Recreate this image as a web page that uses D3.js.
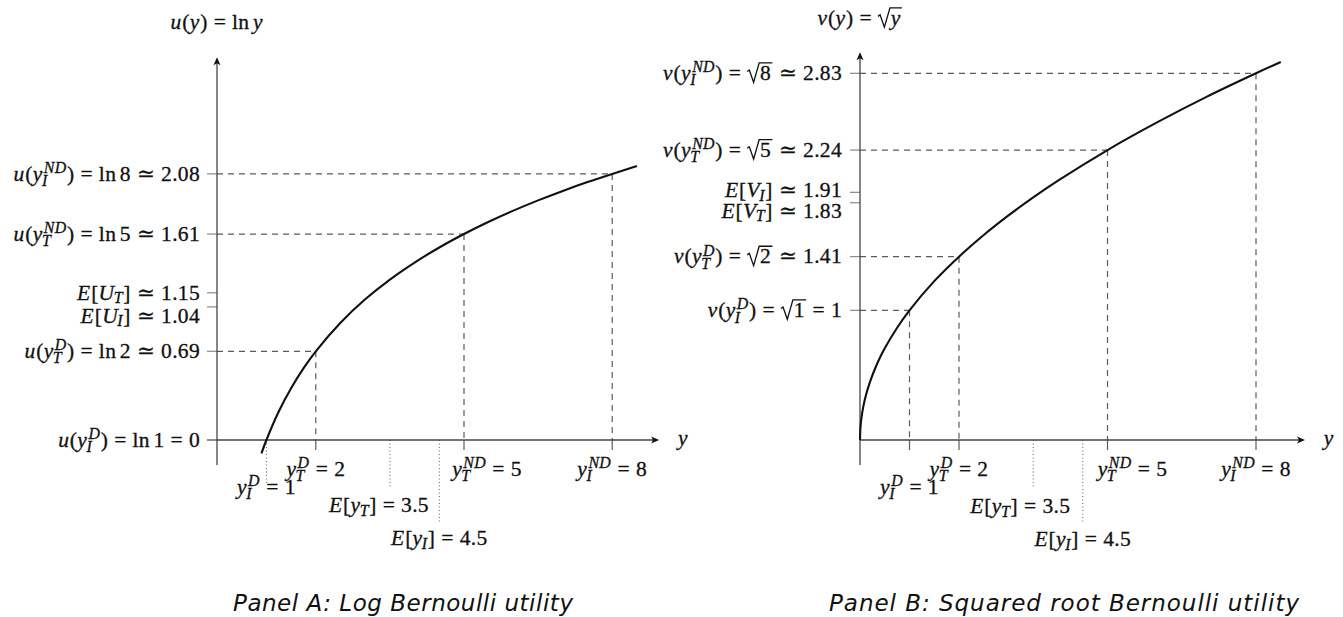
<!DOCTYPE html>
<html><head><meta charset="utf-8">
<script src="https://cdn.jsdelivr.net/npm/d3@7"></script>
<style>
html,body{margin:0;padding:0;background:#fff;}
svg{display:block;}
</style></head>
<body>
<svg id="chart" width="1343" height="617"></svg>
<script>
// ================= DATA =================
// incomes (x axis)
const incomeTicks = [1, 2, 5, 8];
const incomeLabels = ["y_I^D = 1", "y_T^D = 2", "y_T^{ND} = 5", "y_I^{ND} = 8"];
const expectedIncome = [3.5, 4.5];
const expectedIncomeLabels = ["E[y_T] = 3.5", "E[y_I] = 4.5"];

// Panel A: log utility
const logUtilityAtIncome = [0, 0.693, 1.609, 2.079];
const logTickLabels = ["u(y_I^D) = ln 1 = 0", "u(y_T^D) = ln 2 ≃ 0.69", "u(y_T^{ND}) = ln 5 ≃ 1.61", "u(y_I^{ND}) = ln 8 ≃ 2.08"];
const logExpectedUtility = [1.15, 1.04];
const logExpectedLabels = ["E[U_T] ≃ 1.15", "E[U_I] ≃ 1.04"];
const logCurveX = [0.9, 1, 1.25, 1.5, 1.75, 2, 2.5, 3, 3.5, 4, 4.5, 5, 5.5, 6, 6.5, 7, 7.5, 8, 8.5];
const logCurveY = [-0.105, 0, 0.223, 0.405, 0.560, 0.693, 0.916, 1.099, 1.253, 1.386, 1.504, 1.609, 1.705, 1.792, 1.872, 1.946, 2.015, 2.079, 2.140];

// Panel B: square-root utility
const sqrtUtilityAtIncome = [1, 1.414, 2.236, 2.828];
const sqrtTickLabels = ["v(y_I^D) = √{1} = 1", "v(y_T^D) = √{2} ≃ 1.41", "v(y_T^{ND}) = √{5} ≃ 2.24", "v(y_I^{ND}) = √{8} ≃ 2.83"];
const sqrtExpectedUtility = [1.91, 1.83];
const sqrtExpectedLabels = ["E[V_I] ≃ 1.91", "E[V_T] ≃ 1.83"];
const sqrtCurveX = [0, 0.01, 0.04, 0.1, 0.2, 0.35, 0.5, 0.75, 1, 1.5, 2, 2.5, 3, 3.5, 4, 5, 6, 7, 8, 8.5];
const sqrtCurveY = [0, 0.1, 0.2, 0.316, 0.447, 0.592, 0.707, 0.866, 1, 1.225, 1.414, 1.581, 1.732, 1.871, 2, 2.236, 2.449, 2.646, 2.828, 2.915];

const titles = ["u(y) = ln y", "v(y) = √{y}"];
const captions = ["Panel A: Log Bernoulli utility", "Panel B: Squared root Bernoulli utility"];

// ================= LAYOUT =================
const FS = 21.5;
const SCRIPT = 0.74;
const MATH_FONT = "'Liberation Serif', 'DejaVu Serif', serif";
const svg = d3.select("#chart");

function parseMath(src) {
  const toks = [];
  let i = 0;
  const group = () => {
    if (src[i] === "{") { const j = src.indexOf("}", i); const g = src.slice(i + 1, j); i = j + 1; return g; }
    return src[i++];
  };
  while (i < src.length) {
    const c = src[i];
    if (c === " ") { i++; continue; }
    if (c === "_" || c === "^") {
      i++; const g = group(); const last = toks[toks.length - 1];
      if (c === "_") last.sub = g; else last.sup = g; continue;
    }
    if (c === "√") { i++; const g = group(); toks.push({kind: "sqrt", s: g}); continue; }
    if (src.startsWith("ln", i)) { toks.push({kind: "txt", s: "ln", it: false, after: 0.167}); i += 2; continue; }
    if (c === "=" || c === "≃") { toks.push({kind: "txt", s: c, it: false, before: 0.278, after: 0.278}); i++; continue; }
    toks.push({kind: "txt", s: c, it: /[A-Za-z]/.test(c)}); i++;
  }
  return toks;
}

function drawMath(parent, src, x, y, anchor, fs) {
  const g = parent.append("g").attr("font-family", MATH_FONT).attr("fill", "#111")
    .attr("stroke", "#111").attr("stroke-width", 0.3).attr("letter-spacing", "0.3px");
  const toks = parseMath(src);
  let cx = 0;
  const put = (s, px, py, size, it) => {
    const t = g.append("text").attr("x", px).attr("y", py).attr("font-size", size)
      .attr("font-style", it ? "italic" : "normal").text(s);
    return t.node().getComputedTextLength();
  };
  toks.forEach(t => {
    cx += (t.before || 0) * fs;
    if (t.kind === "sqrt") {
      const x0 = cx;
      const innerX = x0 + 0.6 * fs;
      const isIt = /[A-Za-z]/.test(t.s);
      const w = put(t.s, innerX, 0, fs, isIt);
      g.append("path")
        .attr("d", `M${x0},${-0.40 * fs} L${x0 + 0.1 * fs},${-0.47 * fs} L${x0 + 0.3 * fs},${0.1 * fs} L${x0 + 0.56 * fs},${-0.80 * fs} H${innerX + w + 0.06 * fs}`)
        .attr("fill", "none").attr("stroke", "#111").attr("stroke-width", 1.3);
      cx = innerX + w + 0.08 * fs;
    } else {
      const w = put(t.s, cx, 0, fs, t.it);
      cx += w;
      if (t.sub || t.sup) {
        const ss = SCRIPT * fs;
        let ws = 0, wp = 0;
        if (t.sup) { const o = t.it ? 0.06 * fs : 0; wp = put(t.sup, cx + o, -0.36 * fs, ss, true) + o; }
        if (t.sub) { const o = t.it ? -0.03 * fs : 0; ws = put(t.sub, cx + o, (t.sup ? 0.25 : 0.17) * fs, ss, true) + o; }
        cx += Math.max(ws, wp) + 0.02 * fs;
      } else if (t.it) cx += 0.03 * fs;
      cx += (t.after || 0) * fs;
    }
  });
  const shift = anchor === "end" ? -cx : anchor === "middle" ? -cx / 2 : 0;
  g.attr("transform", `translate(${x + shift},${y})`);
  return g;
}

const AXIS = "#454545", DASH = "#5c5c5c", TICK = "#8a8a8a";

function panel(cfg) {
  const g = svg.append("g");
  const x = d3.scaleLinear().domain([0, 9]).range(cfg.xRange);
  const y = d3.scaleLinear().domain([0, 3]).range(cfg.yRange);
  const x0 = x(0), yb = y(0);

  // dashed guides from curve points
  cfg.util.forEach((u, i) => {
    const xi = x(incomeTicks[i]);
    if (u > 0) {
      g.append("line").attr("x1", x0).attr("x2", xi).attr("y1", y(u)).attr("y2", y(u))
        .attr("stroke", DASH).attr("stroke-width", 1.2).attr("stroke-dasharray", "6,5");
      g.append("line").attr("x1", xi).attr("x2", xi).attr("y1", y(u)).attr("y2", yb)
        .attr("stroke", DASH).attr("stroke-width", 1.2).attr("stroke-dasharray", "6,5");
      g.append("line").attr("x1", xi).attr("x2", xi).attr("y1", yb).attr("y2", yb + 10)
        .attr("stroke", DASH).attr("stroke-width", 1.2);
    } else {
      g.append("line").attr("x1", xi).attr("x2", xi).attr("y1", yb).attr("y2", yb + 45)
        .attr("stroke", DASH).attr("stroke-width", 1).attr("stroke-dasharray", "1,2.5");
    }
  });
  // dotted expected incomes
  expectedIncome.forEach((e, i) => {
    g.append("line").attr("x1", x(e)).attr("x2", x(e)).attr("y1", yb).attr("y2", yb + cfg.dotLen[i])
      .attr("stroke", DASH).attr("stroke-width", 1).attr("stroke-dasharray", "1,2.5");
  });
  // y ticks
  cfg.util.concat(cfg.exp).forEach(u => {
    g.append("line").attr("x1", x0 - 10).attr("x2", x0).attr("y1", y(u)).attr("y2", y(u))
      .attr("stroke", u === 0 ? AXIS : TICK).attr("stroke-width", 1.2);
  });
  // axes
  g.append("line").attr("x1", x0).attr("x2", x(cfg.xEnd) - 4).attr("y1", yb).attr("y2", yb)
    .attr("stroke", AXIS).attr("stroke-width", 1.3);
  g.append("line").attr("x1", x0).attr("x2", x0).attr("y1", yb + 25).attr("y2", y(cfg.yEnd) + 4)
    .attr("stroke", AXIS).attr("stroke-width", 1.3);
  const xt = x(cfg.xEnd), yt = y(cfg.yEnd);
  g.append("path").attr("d", `M${xt},${yb} L${xt - 8},${yb - 3.5} L${xt - 6},${yb} L${xt - 8},${yb + 3.5} Z`).attr("fill", "#111");
  g.append("path").attr("d", `M${x0},${yt} L${x0 - 3.5},${yt + 8} L${x0},${yt + 6} L${x0 + 3.5},${yt + 8} Z`).attr("fill", "#111");

  // curve
  const pts = cfg.cx.map((v, i) => [v, cfg.cy[i]]);
  g.append("path").datum(pts)
    .attr("d", d3.line().x(d => x(d[0])).y(d => y(d[1])).curve(d3.curveCatmullRom.alpha(0.5)))
    .attr("fill", "none").attr("stroke", "#111").attr("stroke-width", 2.1);

  // y labels
  cfg.util.forEach((u, i) => drawMath(g, cfg.utilLabels[i], cfg.labelRight, y(u) + 6.8, "end", FS));
  cfg.exp.forEach((u, i) => drawMath(g, cfg.expLabels[i], cfg.labelRight, y(u) + 6.8 + cfg.expDy[i], "end", FS));
  // x labels
  incomeTicks.forEach((v, i) => drawMath(g, incomeLabels[i], x(v) + cfg.incDx[i], cfg.incBase[i], "middle", FS));
  expectedIncome.forEach((v, i) => drawMath(g, expectedIncomeLabels[i], x(v) + cfg.expDx[i], cfg.expBase[i], "middle", FS));
  // axis name and title
  drawMath(g, "y", xt + 24, yb + 5, "middle", FS);
  drawMath(g, cfg.title, x0, cfg.titleBase, "middle", FS);
  g.append("text").attr("x", cfg.capX).attr("y", 611).attr("text-anchor", "middle")
    .attr("font-family", "'DejaVu Sans', sans-serif").attr("font-style", "italic").attr("font-size", 23)
    .attr("textLength", cfg.capW).attr("lengthAdjust", "spacing")
    .attr("fill", "#111").text(cfg.caption);
}

panel({
  xRange: [217, 661.6], yRange: [440, 56], xEnd: 8.95, yEnd: 2.99,
  util: logUtilityAtIncome, utilLabels: logTickLabels,
  exp: logExpectedUtility, expLabels: logExpectedLabels, expDy: [0, 9],
  cx: logCurveX, cy: logCurveY, labelRight: 200,
  incDx: [0, 0, 23, 0], incBase: [494, 476, 476, 476],
  expDx: [-11, 0], expBase: [512, 545], dotLen: [48, 82],
  title: titles[0], titleBase: 29, caption: captions[0], capX: 403, capW: 340
});
panel({
  xRange: [860, 1305.5], yRange: [440, 51], xEnd: 8.99, yEnd: 2.99,
  util: sqrtUtilityAtIncome, utilLabels: sqrtTickLabels,
  exp: sqrtExpectedUtility, expLabels: sqrtExpectedLabels, expDy: [-2, 8],
  cx: sqrtCurveX, cy: sqrtCurveY, labelRight: 842,
  incDx: [0, 0, 25, 0], incBase: [494, 476, 476, 476],
  expDx: [-13, 0], expBase: [513, 546], dotLen: [48, 82],
  title: titles[1], titleBase: 25, caption: captions[1], capX: 1064, capW: 470
});
</script>
</body></html>
